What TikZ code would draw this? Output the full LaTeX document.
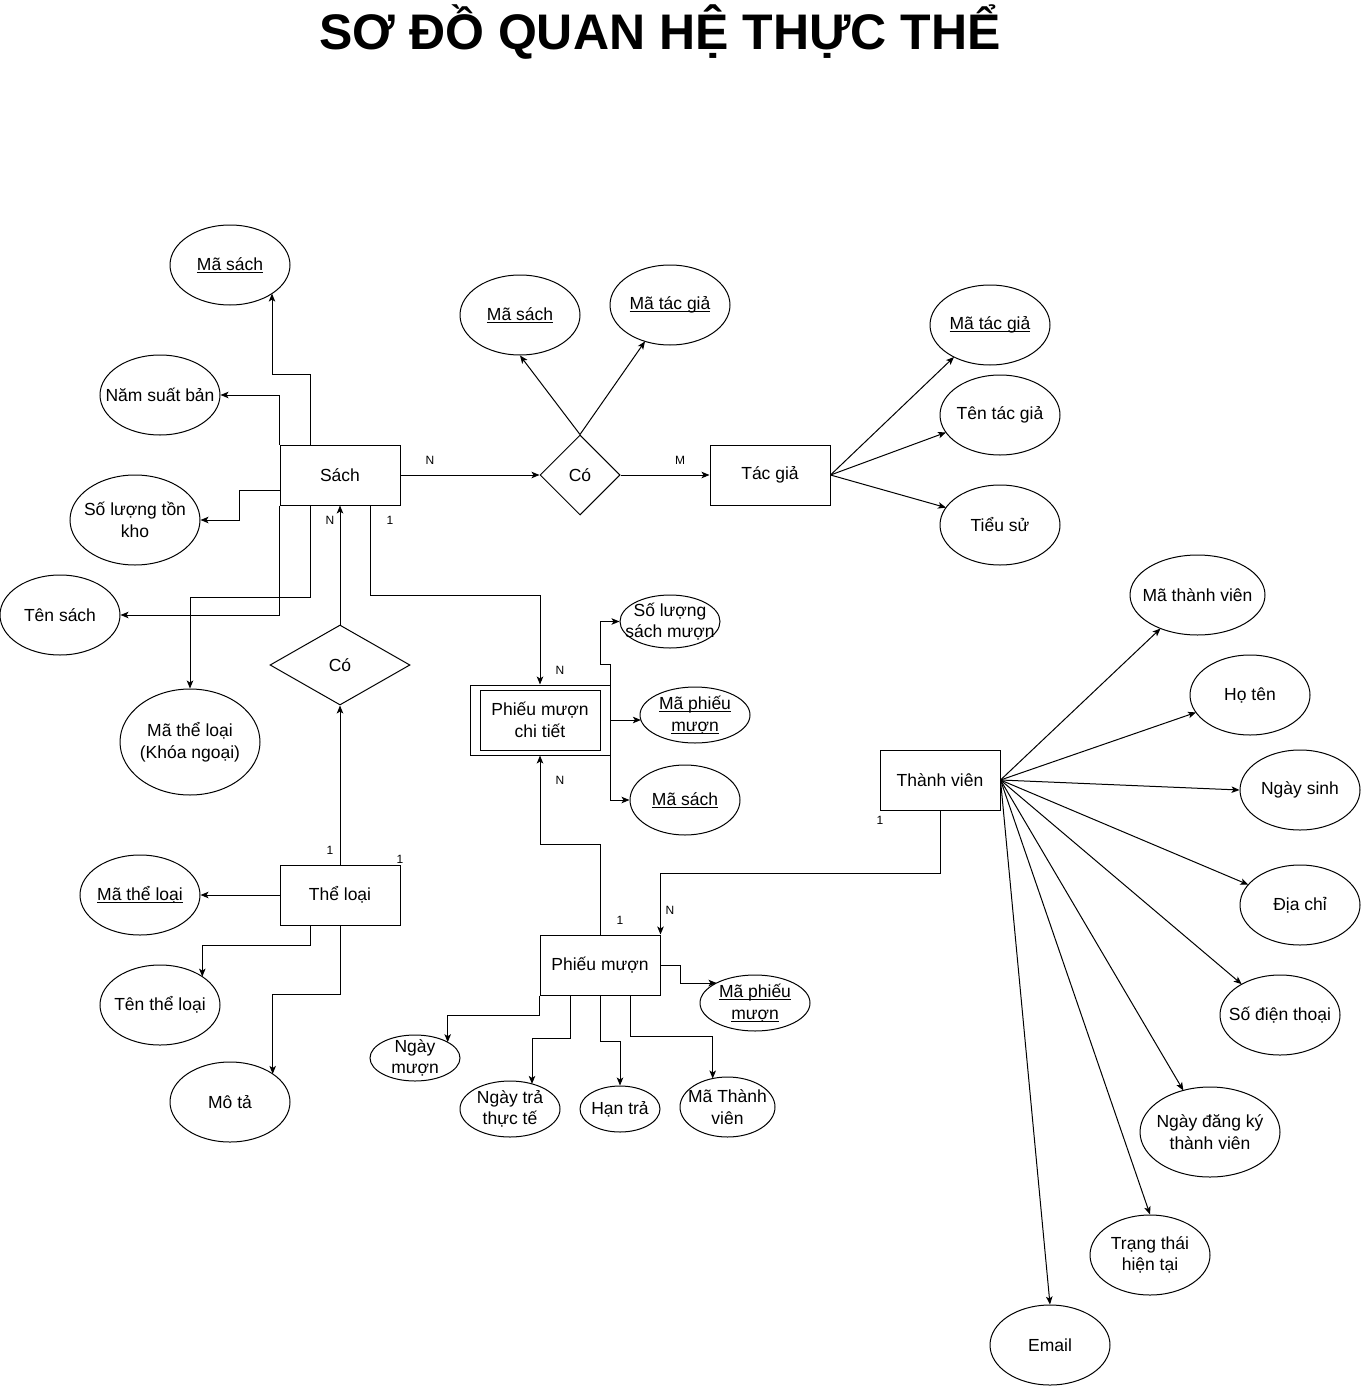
\documentclass[tikz,border=0pt]{standalone}
\usepackage{fontspec}
\setmainfont{Liberation Sans}
\usetikzlibrary{shapes.geometric,arrows.meta,calc}
\newcommand\ulx[1]{\setbox0\hbox{#1}\rlap{\rule[-2.6pt]{\wd0}{0.9pt}}\box0}
\newcommand\attrnode[6]{%
  \node[ell, minimum width=#4pt, minimum height=#5pt] (#1) at (#2,#3) {};
  \node[txt] (#1t) at (#1.center) {#6};}
\begin{document}
\begin{tikzpicture}[x=1pt,y=-1pt,line width=1pt,
  txt/.style={inner sep=0pt, align=center, font=\fontsize{17.5}{21.5}\selectfont},
  ell/.style={draw, ellipse, inner sep=0pt},
  ent/.style={draw, rectangle, inner sep=0pt, minimum width=120pt, minimum height=60pt, align=center, font=\fontsize{17.5}{21.5}\selectfont},
  rel/.style={draw, diamond, inner sep=0pt, font=\fontsize{17.5}{21.5}\selectfont},
  card/.style={inner sep=0pt, font=\fontsize{12}{14}\selectfont},
  arr/.style={-{Stealth[length=8pt,width=6.5pt,inset=2pt]}}]
\useasboundingbox (0,0) rectangle (1361,1386);

\node[anchor=base, inner sep=0pt, font=\bfseries\fontsize{50}{60}\selectfont] (title) at (660,50) {SƠ ĐỒ QUAN HỆ THỰC THỂ};

% entities
\node[ent] (sach) at (340,475) {Sách};
\node[ent] (tg) at (770,475) {Tác giả};
\node[ent] (tl) at (340,895) {Thể loại};
\node[ent] (tv) at (940,780) {Thành viên};
\node[ent] (pm) at (600,965) {Phiếu mượn};
\node[draw, rectangle, inner sep=0pt, minimum width=140pt, minimum height=70pt] (pmct) at (540,720) {};
\node[ent] (pmcti) at (540,720) {Phiếu mượn\\chi tiết};

% relationships
\node[rel, minimum width=80pt, minimum height=80pt] (co1) at (580,475) {Có};
\node[rel, minimum width=140pt, minimum height=80pt] (co2) at (340,665) {Có};

% attributes of Sách
\attrnode{ma1}{230}{265}{120}{80}{\ulx{Mã sách}}
\attrnode{nsb}{160}{395}{120}{80}{Năm suất bản}
\attrnode{sl}{135}{520}{130}{90}{Số lượng tồn\\kho}
\attrnode{ts}{60}{615}{120}{80}{Tên sách}
\attrnode{mtl}{190}{742}{140}{106}{Mã thể loại\\(Khóa ngoại)}

% attributes of Có / Tác giả
\attrnode{ms2}{520}{315}{120}{80}{\ulx{Mã sách}}
\attrnode{mtg2}{670}{305}{120}{80}{\ulx{Mã tác giả}}
\attrnode{mtg3}{990}{325}{120}{80}{\ulx{Mã tác giả}}
\attrnode{ttg}{1000}{415}{120}{80}{Tên tác giả}
\attrnode{tsu}{1000}{525}{120}{80}{Tiểu sử}

% attributes of Thể loại
\attrnode{mtl2}{140}{895}{120}{80}{\ulx{Mã thể loại}}
\attrnode{ttl}{160}{1005}{120}{80}{Tên thể loại}
\attrnode{mt}{230}{1102}{120}{80}{Mô tả}

% attributes of Phiếu mượn chi tiết
\attrnode{slsm}{670}{621.5}{100}{53}{Số lượng\\sách mượn}
\attrnode{mpm1}{695}{715}{110}{56}{\ulx{Mã phiếu}\\\ulx{mượn}}
\attrnode{ms3}{685}{800}{110}{70}{\ulx{Mã sách}}

% attributes of Phiếu mượn
\attrnode{mpm2}{755}{1003}{110}{56}{\ulx{Mã phiếu}\\\ulx{mượn}}
\attrnode{nm}{415}{1058}{90}{46}{Ngày\\mượn}
\attrnode{nttt}{510}{1109}{100}{56}{Ngày trả\\thực tế}
\attrnode{ht}{620}{1109}{80}{46}{Hạn trả}
\attrnode{mtv}{727.5}{1107}{95}{60}{Mã Thành\\viên}

% attributes of Thành viên
\attrnode{mtvm}{1197.5}{595}{135}{80}{Mã thành viên}
\attrnode{hten}{1250}{695}{120}{80}{Họ tên}
\attrnode{ns}{1300}{790}{120}{80}{Ngày sinh}
\attrnode{dc}{1300}{905}{120}{80}{Địa chỉ}
\attrnode{sdt}{1280}{1015}{120}{80}{Số điện thoại}
\attrnode{ndk}{1210}{1132}{140}{90}{Ngày đăng ký\\thành viên}
\attrnode{tt}{1150}{1255}{120}{80}{Trạng thái\\hiện tại}
\attrnode{em}{1050}{1345}{120}{80}{Email}

% Sách connectors
\draw[arr] ($(sach.north)+(-30,0)$) -- ++(0,-70) -| ($(ma1.center)+(42,28.6)$);
\draw[arr] (sach.north west) |- (nsb.east);
\draw[arr] ($(sach.west)+(0,15)$) -- ++(-40,0) |- (sl.east);
\draw[arr] (sach.south west) |- (ts.east);
\draw[arr] ($(sach.south)+(-30,0)$) -- ++(0,92) -| (mtl.north);
\draw[arr] (sach.east) -- (co1.west);
\draw[arr] (co1.east) -- (tg.west);
\draw[arr] (co1.north) -- (ms2.south);
\draw[arr] (co1.north) -- ($(mtg2.center)+(-25,36.4)$);
\draw[arr] (tg.east) -- ($(mtg3.center)+(-36,32)$);
\draw[arr] (tg.east) -- ($(ttg.center)+(-54,17.4)$);
\draw[arr] (tg.east) -- ($(tsu.center)+(-54,-17.4)$);
\draw[arr] (co2.north) -- (sach.south);
\draw[arr] (tl.north) -- (co2.south);
\draw[arr] ($(sach.south)+(30,0)$) -- ++(0,90) -| (pmct.north);

% Phiếu mượn chi tiết connectors
\draw[arr] (pmct.north east) -- ++(0,-20) -- ++(-10,0) |- (slsm.west);
\draw[arr] (pmct.east) -- ($(mpm1.center)+(-54.1,5)$);
\draw[arr] (pmct.south east) |- (ms3.west);

% Phiếu mượn connectors
\draw[arr] (pm.north) -- ++(0,-90) -| (pmct.south);
\draw[arr] (tv.south) -- ++(0,63) -| (pm.north east);
\draw[arr] (pm.east) -- ++(20,0) |- ($(mpm2.center)+(-38.5,-20)$);
\draw[arr] (pm.south west) -- ++(0,20) -| ($(nm.center)+(32.7,-15.8)$);
\draw[arr] ($(pm.south)+(-30,0)$) -- ++(0,43) -| ($(nttt.center)+(22,-25.1)$);
\draw[arr] (pm.south) -- ++(0,46) -| (ht.north);
\draw[arr] ($(pm.south)+(30,0)$) -- ++(0,41) -| ($(mtv.center)+(-14.8,-28.5)$);

% Thể loại connectors
\draw[arr] (tl.west) -- (mtl2.east);
\draw[arr] ($(tl.south)+(-30,0)$) -- ++(0,20) -| ($(ttl.center)+(42.3,-28.4)$);
\draw[arr] (tl.south) -- ++(0,69) -| ($(mt.center)+(42.7,-28.1)$);

% Thành viên connectors
\draw[arr] (tv.east) -- ($(mtvm.center)+(-37,33.5)$);
\draw[arr] (tv.east) -- ($(hten.center)+(-54,17.4)$);
\draw[arr] (tv.east) -- (ns.west);
\draw[arr] (tv.east) -- ($(dc.center)+(-51.7,-20.3)$);
\draw[arr] (tv.east) -- ($(sdt.center)+(-38.3,-30.8)$);
\draw[arr] (tv.east) -- ($(ndk.center)+(-26.7,-41.6)$);
\draw[arr] (tv.east) -- (tt.north);
\draw[arr] (tv.east) -- (em.north);

% cardinalities
\node[card] (c1) at (430,460) {N};
\node[card] (c2) at (680,460) {M};
\node[card] (c3) at (330,520) {N};
\node[card] (c4) at (390,520) {1};
\node[card] (c5) at (560,670) {N};
\node[card] (c6) at (560,780) {N};
\node[card] (c7) at (330,850) {1};
\node[card] (c8) at (400,859) {1};
\node[card] (c9) at (620,920) {1};
\node[card] (c10) at (670,910) {N};
\node[card] (c11) at (880,820) {1};
\end{tikzpicture}
\end{document}
